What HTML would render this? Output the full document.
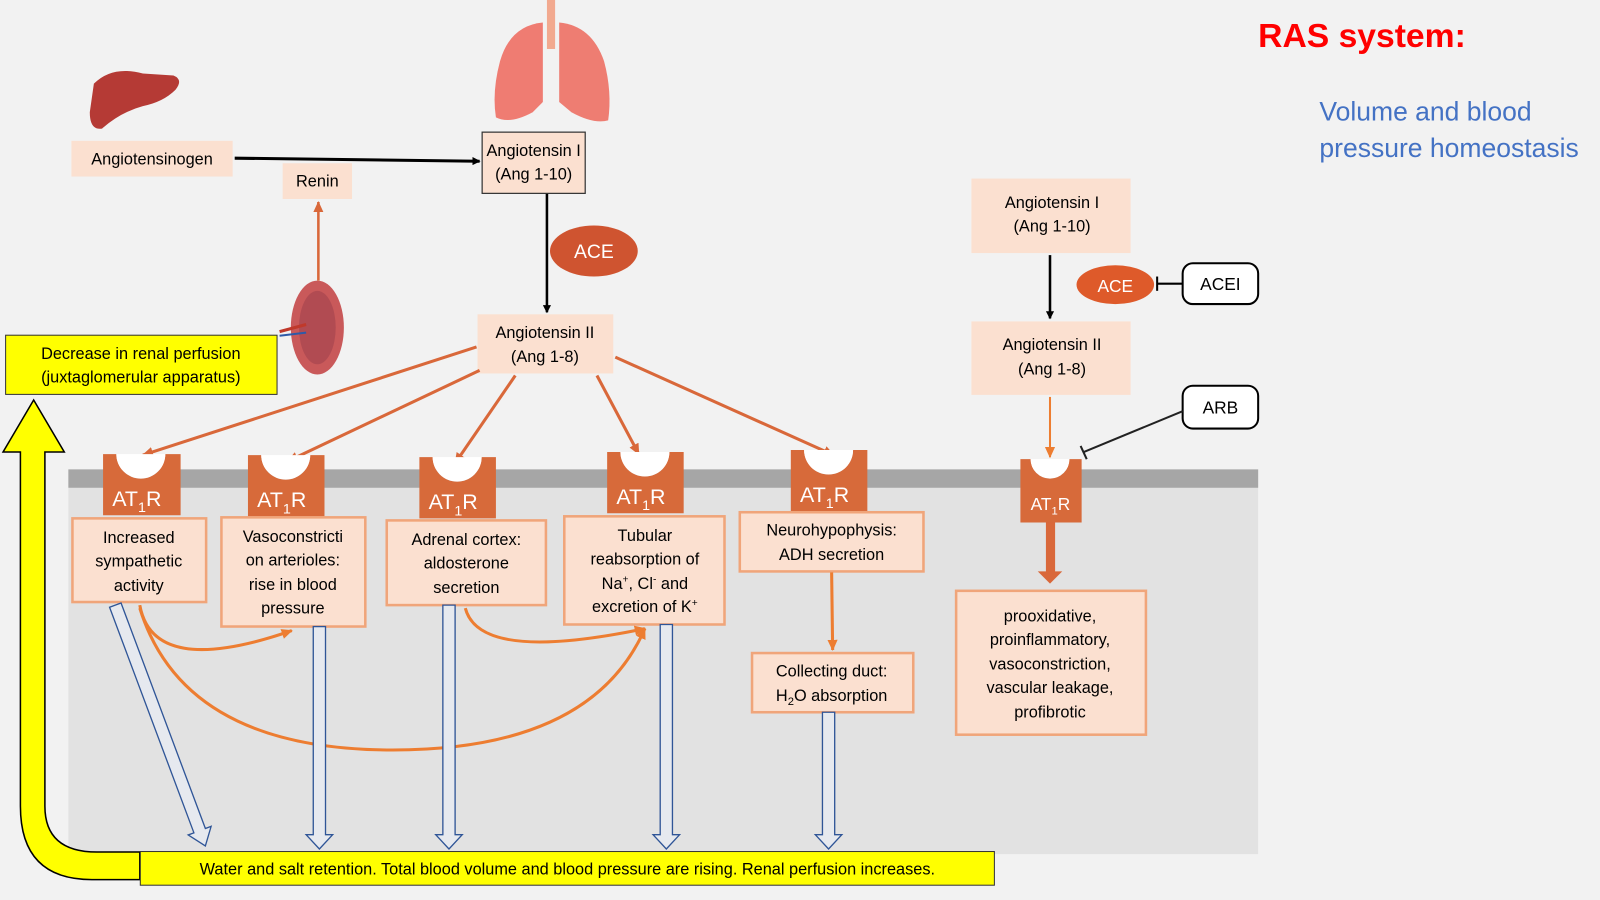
<!DOCTYPE html>
<html><head><meta charset="utf-8"><style>
html,body{margin:0;padding:0;background:#f2f2f2;}
svg{display:block;}
text{font-family:"Liberation Sans",sans-serif;}
</style></head><body>
<svg width="1600" height="900" viewBox="0 0 1568 882" preserveAspectRatio="none" xmlns="http://www.w3.org/2000/svg">
<defs>
<marker id="ab" markerWidth="8" markerHeight="8" refX="7" refY="4" orient="auto" markerUnits="userSpaceOnUse"><path d="M0,0 L8,4 L0,8 Z" fill="#000"/></marker>
<marker id="ao" markerWidth="12" markerHeight="12" refX="10" refY="6" orient="auto" markerUnits="userSpaceOnUse"><path d="M0,1 L11,6 L0,11 Z" fill="#d9683a"/></marker>
<marker id="ao2" markerWidth="12" markerHeight="12" refX="10" refY="6" orient="auto" markerUnits="userSpaceOnUse"><path d="M0,1 L11,6 L0,11 Z" fill="#ed7d31"/></marker>
</defs>
<rect width="1568" height="882" fill="#f2f2f2"/>
<rect x="67" y="460" width="1166" height="377" fill="#e2e2e2"/>
<rect x="67" y="460" width="1166" height="18" fill="#a6a6a6"/>

<text x="1233" y="46" font-size="33" font-weight="bold" fill="#ff0000">RAS system:</text>
<text x="1293" y="118" font-size="26" fill="#4472c4">Volume and blood</text>
<text x="1293" y="154" font-size="26" fill="#4472c4">pressure homeostasis</text>

<path d="M92,82 Q110,64 140,72 L170,74 Q180,78 172,88 Q160,100 140,104 Q118,110 100,126 Q88,128 88,110 Z" fill="#b53a35"/>
<rect x="536" y="0" width="8" height="48" fill="#f2a98f"/>
<path d="M532,22 Q500,25 490,60 Q482,90 486,115 Q500,122 522,110 L532,100 Z" fill="#ef7c72"/>
<path d="M548,22 Q580,25 592,60 Q600,90 596,118 Q582,122 560,110 L548,100 Z" fill="#ee7d72"/>

<ellipse cx="311" cy="321" rx="26" ry="46" fill="#c9595a"/>
<ellipse cx="311" cy="321" rx="18" ry="36" fill="#b14b52"/>
<line x1="274" y1="325" x2="300" y2="318" stroke="#c0392b" stroke-width="3"/>
<line x1="274" y1="329" x2="300" y2="326" stroke="#2e5aa8" stroke-width="2"/>

<rect x="70" y="138" width="158" height="35" fill="#fbe0d0"/>
<text x="149" y="161" font-size="16" text-anchor="middle">Angiotensinogen</text>
<rect x="277" y="160" width="68" height="35" fill="#fbe0d0"/>
<text x="311" y="183" font-size="16" text-anchor="middle">Renin</text>
<rect x="472.5" y="129.5" width="101" height="60" fill="#fbe0d0" stroke="#333" stroke-width="1.2"/>
<text x="523" y="153" font-size="16" text-anchor="middle">Angiotensin I</text>
<text x="523" y="176" font-size="16" text-anchor="middle">(Ang 1-10)</text>
<ellipse cx="582" cy="246" rx="43" ry="25" fill="#cf5430"/>
<text x="582" y="253" font-size="19" fill="#fff" text-anchor="middle">ACE</text>
<rect x="468" y="308" width="133" height="58" fill="#fbe0d0"/>
<text x="534" y="331" font-size="16" text-anchor="middle">Angiotensin II</text>
<text x="534" y="355" font-size="16" text-anchor="middle">(Ang 1-8)</text>

<line x1="230" y1="155" x2="470" y2="158" stroke="#000" stroke-width="3" marker-end="url(#ab)"/>
<line x1="536" y1="190" x2="536" y2="306" stroke="#000" stroke-width="2.5" marker-end="url(#ab)"/>
<line x1="312" y1="275" x2="312" y2="198" stroke="#d9683a" stroke-width="2.5" marker-end="url(#ao)"/>

<rect x="5.5" y="328.5" width="266" height="58" fill="#ffff00" stroke="#333" stroke-width="1"/>
<text x="138" y="352" font-size="16" text-anchor="middle">Decrease in renal perfusion</text>
<text x="138" y="375" font-size="16" text-anchor="middle">(juxtaglomerular apparatus)</text>
<path d="M20,443 V790 Q20,862 90,862 H137 V835 H95 Q44,835 44,790 V443 H63 L33,392 L3,443 Z" fill="#ffff00" stroke="#000" stroke-width="1.5"/>
<rect x="137.5" y="834.5" width="837" height="33" fill="#ffff00" stroke="#333" stroke-width="1"/>
<text x="556" y="857" font-size="16" text-anchor="middle">Water and salt retention. Total blood volume and blood pressure are rising. Renal perfusion increases.</text>

<g stroke="#d9683a" stroke-width="3" fill="none">
<line x1="467" y1="340" x2="140" y2="446" marker-end="url(#ao)"/>
<line x1="470" y1="363" x2="282" y2="452" marker-end="url(#ao)"/>
<line x1="505" y1="368" x2="446" y2="454" marker-end="url(#ao)"/>
<line x1="585" y1="368" x2="626" y2="445" marker-end="url(#ao)"/>
<line x1="603" y1="350" x2="817" y2="446" marker-end="url(#ao)"/>
</g>

<g fill="#d76a3a">
<path d="M101,445 H114 A24,24 0 0 0 162,445 H177 V505 H101 Z"/>
<path d="M243,446 H256 A24,24 0 0 0 304,446 H318 V506 H243 Z"/>
<path d="M411,448 H424 A24,24 0 0 0 472,448 H486 V508 H411 Z"/>
<path d="M595,443 H608 A24,24 0 0 0 656,443 H670 V503 H595 Z"/>
<path d="M775,441 H788 A24,24 0 0 0 836,441 H850 V501 H775 Z"/>
<path d="M1000,450 H1010 A19,19 0 0 0 1048,450 H1060 V512 H1000 Z"/>
</g>
<g fill="#fff">
<path d="M114,445 A24,24 0 0 0 162,445 Z"/>
<path d="M256,446 A24,24 0 0 0 304,446 Z"/>
<path d="M424,448 A24,24 0 0 0 472,448 Z"/>
<path d="M608,443 A24,24 0 0 0 656,443 Z"/>
<path d="M788,441 A24,24 0 0 0 836,441 Z"/>
<path d="M1010,450 A19,19 0 0 0 1048,450 Z"/>
</g>
<g fill="#fff" font-size="21">
<text x="110" y="496">AT<tspan font-size="14" dy="6">1</tspan><tspan dy="-6">R</tspan></text>
<text x="252" y="497">AT<tspan font-size="14" dy="6">1</tspan><tspan dy="-6">R</tspan></text>
<text x="420" y="499">AT<tspan font-size="14" dy="6">1</tspan><tspan dy="-6">R</tspan></text>
<text x="604" y="494">AT<tspan font-size="14" dy="6">1</tspan><tspan dy="-6">R</tspan></text>
<text x="784" y="492">AT<tspan font-size="14" dy="6">1</tspan><tspan dy="-6">R</tspan></text>
<text x="1010" y="500" font-size="17">AT<tspan font-size="11" dy="4">1</tspan><tspan dy="-4">R</tspan></text>
</g>

<g fill="#fbe0d0" stroke="#f0a57a" stroke-width="2.5">
<rect x="71" y="508" width="131" height="82"/>
<rect x="217" y="507" width="141" height="107"/>
<rect x="379" y="510" width="156" height="83"/>
<rect x="553" y="506" width="157" height="106"/>
<rect x="725" y="502" width="180" height="58"/>
<rect x="737" y="640" width="158" height="58"/>
<rect x="937" y="579" width="186" height="141"/>
</g>
<g font-size="16" text-anchor="middle">
<text x="136" y="532">Increased</text><text x="136" y="555">sympathetic</text><text x="136" y="579">activity</text>
<text x="287" y="531">Vasoconstricti</text><text x="287" y="554">on arterioles:</text><text x="287" y="578">rise in blood</text><text x="287" y="601">pressure</text>
<text x="457" y="534">Adrenal cortex:</text><text x="457" y="557">aldosterone</text><text x="457" y="581">secretion</text>
<text x="632" y="530">Tubular</text><text x="632" y="553">reabsorption of</text>
<text x="632" y="577">Na<tspan font-size="10" dy="-6">+</tspan><tspan dy="6">, Cl</tspan><tspan font-size="10" dy="-6">-</tspan><tspan dy="6"> and</tspan></text>
<text x="632" y="600">excretion of K<tspan font-size="10" dy="-6">+</tspan></text>
<text x="815" y="525">Neurohypophysis:</text><text x="815" y="549">ADH secretion</text>
<text x="815" y="663">Collecting duct:</text>
<text x="815" y="687">H<tspan font-size="11" dy="4">2</tspan><tspan dy="-4">O absorption</tspan></text>
<text x="1029" y="609">prooxidative,</text><text x="1029" y="632">proinflammatory,</text><text x="1029" y="656">vasoconstriction,</text><text x="1029" y="679">vascular leakage,</text><text x="1029" y="703">profibrotic</text>
</g>

<g stroke="#ed7d31" stroke-width="3" fill="none">
<path d="M137,593 Q150,665 286,618" marker-end="url(#ao2)"/>
<path d="M137,596 Q180,735 385,735 Q580,735 632,616" marker-end="url(#ao2)"/>
<path d="M456,596 Q470,650 632,616" marker-end="url(#ao2)"/>
<line x1="815" y1="561" x2="816" y2="637" marker-end="url(#ao2)"/>
</g>

<g fill="#e6e9ef" stroke="#2f5597" stroke-width="1.3">
<polygon points="-6,0 6,0 6,236 12,236 0,252 -12,236 -6,236" transform="translate(113,593) rotate(-20.5)"/>
<polygon points="307,614 319,614 319,818 326,818 313,832 300,818 307,818"/>
<polygon points="434,593 446,593 446,818 453,818 440,832 427,818 434,818"/>
<polygon points="647,612 659,612 659,818 666,818 653,832 640,818 647,818"/>
<polygon points="806,698 818,698 818,818 825,818 812,832 799,818 806,818"/>
</g>

<rect x="952" y="175" width="156" height="73" fill="#fbe0d0"/>
<text x="1031" y="204" font-size="16" text-anchor="middle">Angiotensin I</text>
<text x="1031" y="227" font-size="16" text-anchor="middle">(Ang 1-10)</text>
<rect x="952" y="315" width="156" height="72" fill="#fbe0d0"/>
<text x="1031" y="343" font-size="16" text-anchor="middle">Angiotensin II</text>
<text x="1031" y="367" font-size="16" text-anchor="middle">(Ang 1-8)</text>
<line x1="1029" y1="250" x2="1029" y2="312" stroke="#000" stroke-width="2.5" marker-end="url(#ab)"/>
<ellipse cx="1093" cy="279" rx="38" ry="19" fill="#de5a2a"/>
<text x="1093" y="286" font-size="17" fill="#fff" text-anchor="middle">ACE</text>
<line x1="1134" y1="278" x2="1160" y2="278" stroke="#000" stroke-width="2"/>
<line x1="1134" y1="271" x2="1134" y2="285" stroke="#000" stroke-width="2"/>
<rect x="1159" y="258" width="74" height="40" rx="10" fill="#fff" stroke="#000" stroke-width="2"/>
<text x="1196" y="284" font-size="17" text-anchor="middle">ACEI</text>
<rect x="1159" y="378" width="74" height="42" rx="10" fill="#fff" stroke="#000" stroke-width="2"/>
<text x="1196" y="405" font-size="17" text-anchor="middle">ARB</text>
<line x1="1159" y1="403" x2="1062" y2="443" stroke="#222" stroke-width="2"/>
<line x1="1059" y1="437" x2="1065" y2="450" stroke="#222" stroke-width="2"/>
<line x1="1029" y1="389" x2="1029" y2="448" stroke="#ed7d31" stroke-width="2" marker-end="url(#ao2)"/>
<rect x="1025" y="512" width="9" height="50" fill="#d9683a"/>
<polygon points="1017,560 1041,560 1029,572" fill="#d9683a"/>
</svg>
</body></html>
